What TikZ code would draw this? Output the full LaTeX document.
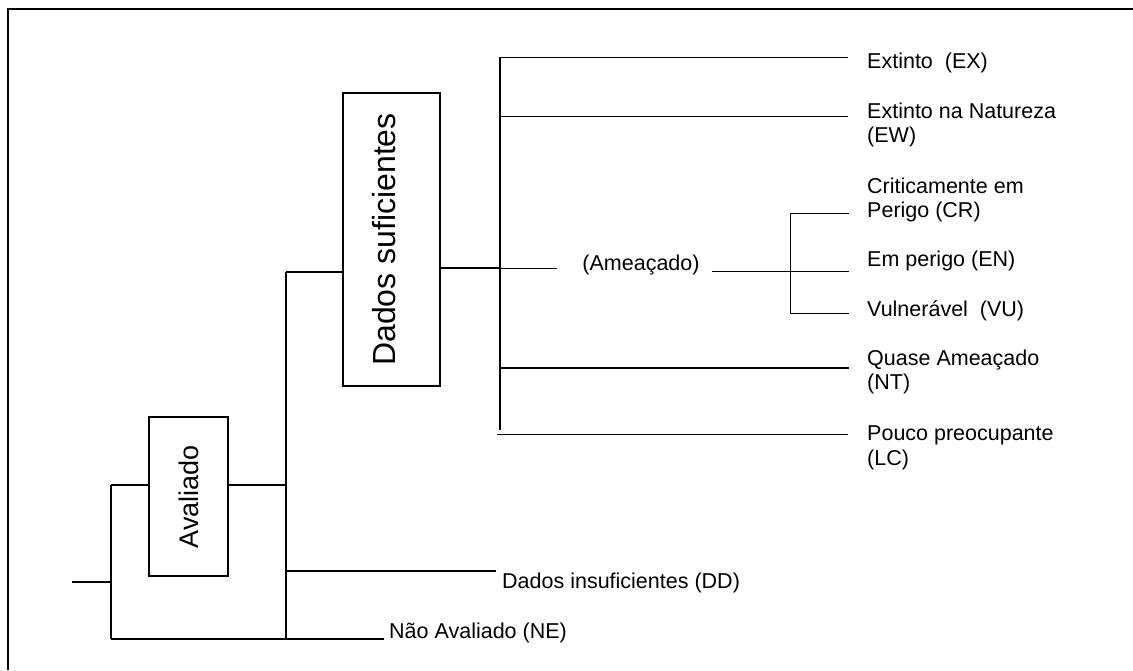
\documentclass[tikz,border=0pt]{standalone}
\usepackage{fontspec}
\setmainfont{Liberation Sans}
\usepackage{graphicx}
\usetikzlibrary{positioning}

\begin{document}
\begin{tikzpicture}[x=1pt, y=-1pt,
      box/.style={rectangle, draw, line width=1.6pt, inner sep=0pt},
      lbl/.style={anchor=west, inner sep=0pt, align=left,
                  font=\fontsize{21.5}{24.5}\selectfont, text=black},
      thk/.style={line width=1.6pt},
      thn/.style={line width=1pt},
      frame/.style={line width=2.4pt},
      ]
    \useasboundingbox (0,0) rectangle (1133,670);
    \draw[frame] (8,670) -- (8,9) -- (1133,9);

    \node[box, minimum width=79pt, minimum height=159pt] (aval) at (188.5,496.5)
      {\fontsize{27}{27}\selectfont\rotatebox{90}{Avaliado}};
    \node[box, minimum width=97pt, minimum height=293pt] (suf) at (391.5,239.5)
      {\fontsize{32}{32}\selectfont\rotatebox{90}{Dados suficientes}\hspace*{14pt}};

    \node[lbl] (ex) at (867,63) {Extinto\ \ (EX)};
    \node[lbl] (ew) at (867,125) {Extinto na Natureza\\(EW)};
    \node[lbl] (cr) at (867,200) {Criticamente em\\Perigo (CR)};
    \node[lbl] (en) at (867,261) {Em perigo (EN)};
    \node[lbl] (vu) at (867,311) {Vulner\'avel\ \ (VU)};
    \node[lbl] (nt) at (867,372) {Quase Amea\c{c}ado\\(NT)};
    \node[lbl] (lc) at (867,448) {Pouco preocupante\\(LC)};
    \node[lbl, anchor=center] (amea) at (641,265) {(Amea\c{c}ado)};
    \node[lbl] (dd) at (502,583) {Dados insuficientes (DD)};
    \node[lbl] (ne) at (389,633) {N\~ao Avaliado (NE)};

    \coordinate (root) at (72,582);
    \coordinate (a1) at (111,485);
    \coordinate (a2) at (111,639);
    \coordinate (b1) at (286,272);
    \coordinate (b2) at (286,639);
    \coordinate (c0) at (500,268);
    \coordinate (c1) at (500,57);
    \coordinate (c2) at (500,430);
    \coordinate (d1) at (790,213);
    \coordinate (d2) at (790,313);
    \coordinate (dd-e) at (496,571);
    \coordinate (am-l) at (557,268);
    \coordinate (am-r) at (712,271);
    \coordinate (ex-e) at (848,57);
    \coordinate (ew-e) at (848,116);
    \coordinate (cr-e) at (849,213);
    \coordinate (en-e) at (849,271);
    \coordinate (vu-e) at (849,313);
    \coordinate (nt-e) at (849,368);
    \coordinate (lc-e) at (848,434);

    \draw[thk] (root) -- (root -| a1);
    \draw[thk] (a1) -- (a2);
    \draw[thk] (a1) -- (a1 -| aval.west);
    \draw[thk] (aval.east |- a1) -- (a1 -| b1);
    \draw[thk] (b1) -- (b2);
    \draw[thk] (b1) -- (b1 -| suf.west);
    \draw[thk] (b1 |- dd-e) -- (dd-e);
    \draw[thk] (a2) -- ([xshift=-5pt]a2 -| ne.west);
    \draw[thk] (suf.east |- c0) -- (c0);
    \draw[thk] (c1) -- (c2);
    \draw[thn] (c1) -- (ex-e);
    \draw[thn] (c1 |- ew-e) -- (ew-e);
    \draw[thn] (c0) -- (am-l);
    \draw[thk] (c1 |- nt-e) -- (nt-e);
    \draw[thn] ([xshift=-3pt]c1 |- lc-e) -- (lc-e);
    \draw[thn] (am-r) -- (en-e);
    \draw[thn] (d1) -- (d2);
    \draw[thn] (d1) -- (cr-e);
    \draw[thn] (d2) -- (vu-e);
  \end{tikzpicture}
\end{document}
